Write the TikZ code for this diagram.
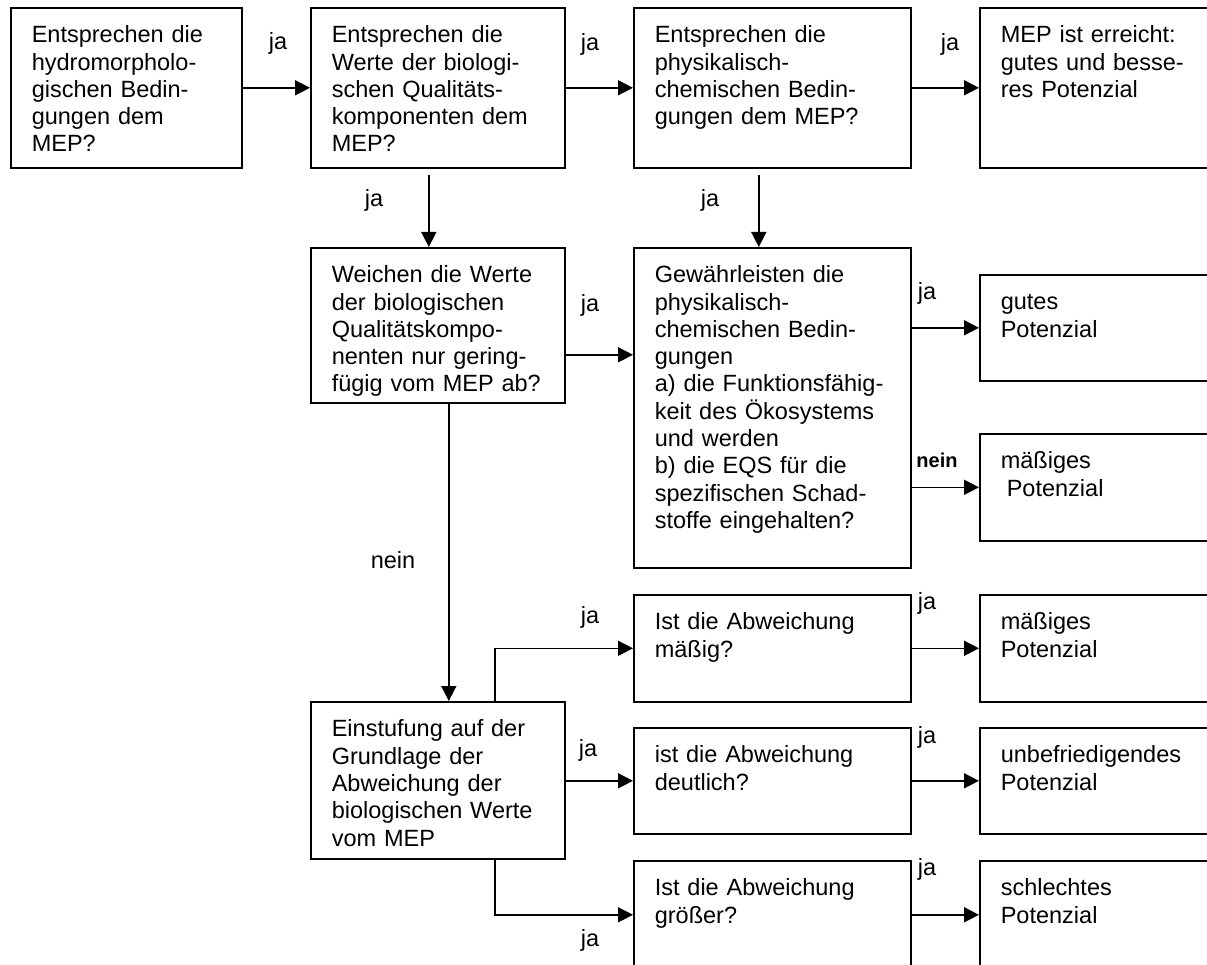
\documentclass[tikz,border=0pt]{standalone}
\usepackage{fontspec}
\setmainfont{Liberation Sans}
\usetikzlibrary{arrows.meta}

\begin{document}
\begin{tikzpicture}[x=1pt,y=-1pt,
  font=\fontsize{23.5}{27.3}\selectfont,
  box/.style 2 args={draw,line width=1.6pt,anchor=north west,align=left,
    inner xsep=21pt,inner ysep=17pt,text height=18pt,text width=#1,text depth=#2},
  arr/.style={line width=1.6pt,-{Triangle[length=15pt,width=15pt]}},
  bnein/.style={font=\bfseries\fontsize{20}{22}\selectfont}]
  \clip (0,0) rectangle (1207,965);
  \fill[white] (0,0) rectangle (1207,965);

  % erste Reihe
  \node[box={189pt}{108pt}] (hyd) at (10,7) {Entsprechen die\\hydromorpholo-\\gischen Bedin-\\gungen dem\\MEP?};
  \node[box={212pt}{108pt}] (bio) at (310,7) {Entsprechen die\\Werte der biologi-\\schen Qualitäts-\\komponenten dem\\MEP?};
  \node[box={235pt}{108pt}] (phy) at (633,7) {Entsprechen die\\physikalisch-\\chemischen Bedin-\\gungen dem MEP?};
  \node[box={218pt}{108pt}] (mep) at (979,7) {MEP ist erreicht:\\gutes und besse-\\res Potenzial};

  % zweite Reihe
  \node[box={212pt}{103pt}] (abw) at (310,247) {Weichen die Werte\\der biologischen\\Qualitätskompo-\\nenten nur gering-\\fügig vom MEP ab?};
  \node[box={235pt}{268pt}] (gew) at (633,247) {Gewährleisten die\\physikalisch-\\chemischen Bedin-\\gungen\\a) die Funktionsfähig-\\keit des Ökosystems\\und werden\\b) die EQS für die\\spezifischen Schad-\\stoffe eingehalten?};
  \node[box={218pt}{54pt}] (gut) at (979,274) {gutes\\Potenzial};
  \node[box={218pt}{55pt}] (mpa) at (979,433) {mäßiges\\\hspace*{6pt}Potenzial};

  % Einstufung
  \node[box={212pt}{105pt}] (ein) at (310,701) {Einstufung auf der\\Grundlage der\\Abweichung der\\biologischen Werte\\vom MEP};
  \node[box={235pt}{55pt}] (mae) at (633,594) {Ist die Abweichung\\mäßig?};
  \node[box={235pt}{54pt}] (deu) at (633,727) {ist die Abweichung\\deutlich?};
  \node[box={235pt}{56pt}] (gro) at (633,860) {Ist die Abweichung\\größer?};
  \node[box={218pt}{55pt}] (mpb) at (979,594) {mäßiges\\Potenzial};
  \node[box={218pt}{54pt}] (unb) at (979,727) {unbefriedigendes\\Potenzial};
  \node[box={218pt}{56pt}] (sch) at (979,860) {schlechtes\\Potenzial};

  \draw[arr] (hyd.east) -- (bio.west);
  \draw[arr] (bio.east) -- (phy.west);
  \draw[arr] (phy.east) -- (mep.west);
  \draw[arr] ([xshift=-9pt,yshift=-6pt]bio.south) -- ([xshift=-9pt]abw.north);
  \draw[arr] ([xshift=-13.5pt,yshift=-6pt]phy.south) -- ([xshift=-13.5pt]gew.north);
  \coordinate (c1) at ([yshift=-29.5pt]abw.east);
  \draw[arr] (c1) -- (c1 -| gew.west);
  \draw[arr] (gew.east |- gut.west) -- (gut.west);
  \draw[arr] (gew.east |- mpa.west) -- (mpa.west);
  \draw[arr] ([xshift=11pt]abw.south) -- ([xshift=11pt]ein.north);
  \draw[arr] ([xshift=57pt]ein.north) |- (mae.west);
  \draw[arr] (ein.east |- deu.west) -- (deu.west);
  \draw[arr] ([xshift=57pt]ein.south) |- (gro.west);
  \draw[arr] (mae.east) -- (mpb.west);
  \draw[arr] (deu.east) -- (unb.west);
  \draw[arr] (gro.east) -- (sch.west);

  \node (j1) at (278,43) {ja};
  \node (j2) at (590,44) {ja};
  \node (j3) at (950,44) {ja};
  \node (j4) at (374,200) {ja};
  \node (j5) at (710,200) {ja};
  \node (j6) at (590,305) {ja};
  \node (j7) at (927,293) {ja};
  \node[bnein] (n1) at (937,460) {nein};
  \node (n2) at (393,560) {nein};
  \node (j8) at (590,617) {ja};
  \node (j9) at (927,603) {ja};
  \node (j10) at (588,750) {ja};
  \node (j11) at (927,737) {ja};
  \node (j12) at (590,940) {ja};
  \node (j13) at (927,869) {ja};
\end{tikzpicture}
\end{document}
